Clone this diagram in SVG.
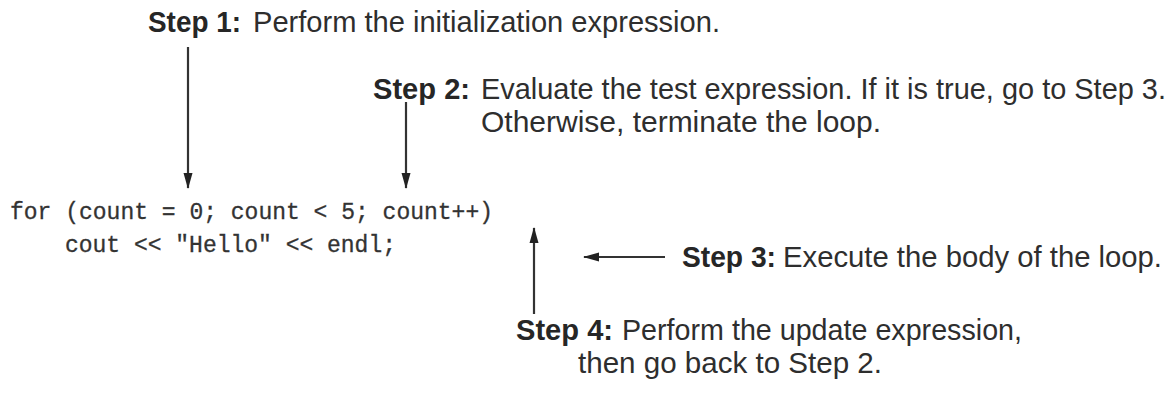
<svg xmlns="http://www.w3.org/2000/svg" width="1176" height="396" viewBox="0 0 1176 396">
<style>
.lbl{font-family:"Liberation Sans",Arial,sans-serif;font-size:29px;fill:#2e2e2e}
.b{font-weight:bold;fill:#262626}
.code{font-family:"Liberation Mono","Courier New",monospace;font-size:23px;fill:#333;stroke:#333;stroke-width:0.3}
.arr{stroke:#333;stroke-width:2.2;fill:none;marker-end:url(#ah)}
</style>
<defs>
<marker id="ah" viewBox="0 0 16 10" refX="15" refY="5" markerWidth="16" markerHeight="10" markerUnits="userSpaceOnUse" orient="auto">
<path d="M0,0.5 L16,5 L0,9.5 Z" fill="#222"/>
</marker>
</defs>
<rect width="1176" height="396" fill="#fff"/>
<g id="code">
<text class="code" x="10" y="219" textLength="483" xml:space="preserve">for (count = 0; count &lt; 5; count++)</text>
<text class="code" x="65" y="252" textLength="331" xml:space="preserve">cout &lt;&lt; "Hello" &lt;&lt; endl;</text>
</g>
<g id="step1">
<text class="lbl b" x="148" y="32" textLength="93" lengthAdjust="spacingAndGlyphs">Step 1:</text>
<text class="lbl" x="253" y="32" textLength="467" lengthAdjust="spacingAndGlyphs">Perform the initialization expression.</text>
</g>
<g id="step2">
<text class="lbl b" x="373" y="99" textLength="97" lengthAdjust="spacingAndGlyphs">Step 2:</text>
<text class="lbl" x="481" y="99" textLength="685" lengthAdjust="spacingAndGlyphs">Evaluate the test expression. If it is true, go to Step 3.</text>
<text class="lbl" x="481" y="132" textLength="400" lengthAdjust="spacingAndGlyphs">Otherwise, terminate the loop.</text>
</g>
<g id="step3">
<text class="lbl b" x="682" y="267" textLength="94" lengthAdjust="spacingAndGlyphs">Step 3:</text>
<text class="lbl" x="783" y="267" textLength="379" lengthAdjust="spacingAndGlyphs">Execute the body of the loop.</text>
</g>
<g id="step4">
<text class="lbl b" x="516" y="340" textLength="97" lengthAdjust="spacingAndGlyphs">Step 4:</text>
<text class="lbl" x="622" y="340" textLength="400" lengthAdjust="spacingAndGlyphs">Perform the update expression,</text>
<text class="lbl" x="578" y="373" textLength="304" lengthAdjust="spacingAndGlyphs">then go back to Step 2.</text>
</g>
<g id="connectors">
<line class="arr" x1="188" y1="47" x2="188" y2="188"/>
<line class="arr" x1="406" y1="102" x2="406" y2="188"/>
<line class="arr" x1="534" y1="314" x2="534" y2="228"/>
<line class="arr" x1="665" y1="257" x2="584" y2="257"/>
</g>
</svg>
